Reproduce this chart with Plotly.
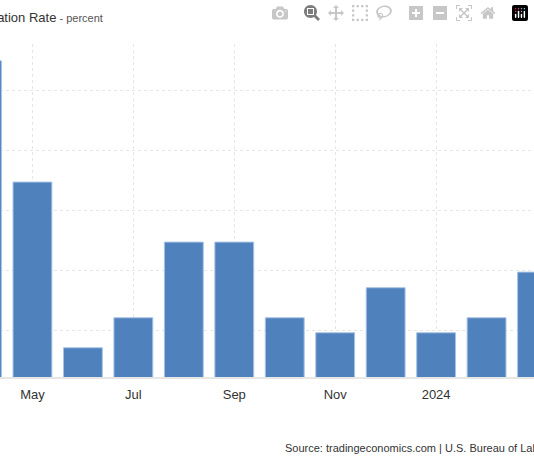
import plotly.graph_objects as go

months = ["Apr", "May", "Jun", "Jul", "Aug", "Sep", "Oct", "Nov", "Dec", "Jan", "Feb", "Mar"]
values = [5.5, 3.48, 0.72, 1.22, 2.48, 2.48, 1.22, 0.97, 1.72, 0.97, 1.22, 1.98]
tick_pos = [1, 3, 5, 7, 9]
tick_text = ["May", "Jul", "Sep", "Nov", "2024"]

x = list(range(len(months)))
fig = go.Figure(go.Bar(x=x, y=values, width=0.77, marker=dict(color="#4f81bd", line=dict(color="#a8c3e6", width=1)),
                       hovertext=months))
fig.update_layout(
    width=534, height=462, margin=dict(l=0, r=0, t=44, b=85),
    plot_bgcolor="white", paper_bgcolor="white", showlegend=False,
    font=dict(family="Liberation Sans, Arial, sans-serif", color="#333"),
)
fig.update_xaxes(range=[0.357, 10.94], tickvals=tick_pos, ticktext=tick_text, tickfont=dict(size=13, color="#333"),
                 showgrid=True, gridcolor="#e6e6e6", griddash="dot", showline=True, linecolor="#e6e6e6",
                 linewidth=2, ticks="", ticklabelstandoff=4)
fig.update_yaxes(range=[0.233, 5.78], tickvals=[1, 2, 3, 4, 5, 5.78], showticklabels=False,
                 showgrid=True, gridcolor="#e6e6e6", griddash="dot", zeroline=False)
fig.add_annotation(x=11, y=0, xref="x", yref="paper", yanchor="top", yshift=-4, text="Mar", showarrow=False,
                   font=dict(size=13, color="#333"))
fig.add_annotation(x=105 / 534, y=1 + (44 - 18) / 333, xref="paper", yref="paper", xanchor="right", yanchor="middle",
                   text="Core Inflation Rate<span style='font-size:11px;color:#555'> - percent</span>",
                   showarrow=False, font=dict(size=13, color="#333"))
fig.add_annotation(x=283 / 534, y=-(448 - 377) / 333, xref="paper", yref="paper", xanchor="left", yanchor="middle",
                   text="Source: tradingeconomics.com | U.S. Bureau of Labor Statistics",
                   showarrow=False, font=dict(size=11, color="#333"))
fig.write_html("out.html")

with open("out.html", encoding="utf-8") as f:
    html = f.read()
html = html.replace("<head>", "<head><style>html,body{margin:0;padding:0;overflow:hidden}</style>", 1)
with open("out.html", "w", encoding="utf-8") as f:
    f.write(html)
